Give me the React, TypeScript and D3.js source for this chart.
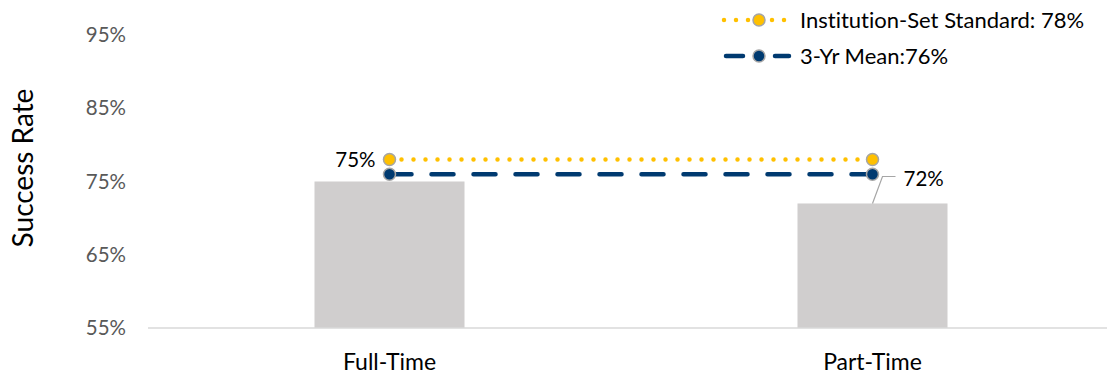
import React from "react";
import * as d3 from "d3";

const categories = ["Full-Time", "Part-Time"];
const successRates = [75, 72];
const standardValue = 78;
const meanValue = 76;
const yTicks = [55, 65, 75, 85, 95];
const legendLabels = ["Institution-Set Standard: 78%", "3-Yr Mean:76%"];

const W = 1107;
const H = 377;
const FONT = "Lato, 'Open Sans', sans-serif";
const GOLD = "#FFC000";
const NAVY = "#003A70";
const MARKER_STROKE = "#A5A5A5";

export default function App() {
  const x = d3.scaleBand<string>().domain(categories).range([148, 1114]).paddingInner(0).paddingOuter(0);
  const y = d3.scaleLinear().domain([55, 95]).range([328, 35]);
  const barW = 150;
  const cx = (c: string) => (x(c) ?? 0) + x.bandwidth() / 2;

  const linePath = (v: number) =>
    d3.line<string>().x((c) => cx(c)).y(() => y(v))(categories) ?? "";

  const p0 = cx(categories[1]);
  const v1 = y(successRates[1]);

  return (
    <svg width={W} height={H} style={{ position: "absolute", left: 0, top: 0, fontVariantLigatures: "none" }} fontFamily={FONT}>
      {/* axis title */}
      <text transform={`translate(23,${168}) rotate(-90)`} textAnchor="middle" dy="0.35em" fontSize={28} fill="#000">
        Success Rate
      </text>
      {/* y tick labels */}
      {yTicks.map((t) => (
        <text key={t} x={126} y={y(t)} dy="0.35em" textAnchor="end" fontSize={20.5} fill="#595959">
          {t}%
        </text>
      ))}
      {/* bars */}
      {categories.map((c, i) => (
        <rect key={c} x={cx(c) - barW / 2} y={y(successRates[i])} width={barW} height={y(55) - y(successRates[i])} fill="#D0CECE" />
      ))}
      {/* category axis */}
      <line x1={148} x2={1114} y1={y(55)} y2={y(55)} stroke="#D9D9D9" strokeWidth={1.5} />
      {categories.map((c) => (
        <text key={c} x={cx(c)} y={370} textAnchor="middle" fontSize={23} fill="#000">
          {c}
        </text>
      ))}
      {/* reference lines */}
      <path d={linePath(standardValue)} stroke={GOLD} strokeWidth={4.5} strokeDasharray="0 12" strokeLinecap="round" fill="none" />
      <path d={linePath(meanValue)} stroke={NAVY} strokeWidth={4.5} strokeDasharray="22 20" strokeLinecap="round" fill="none" />
      {categories.map((c) => (
        <g key={c}>
          <circle cx={cx(c)} cy={y(standardValue)} r={6} fill={GOLD} stroke={MARKER_STROKE} strokeWidth={1.5} />
          <circle cx={cx(c)} cy={y(meanValue)} r={6} fill={NAVY} stroke={MARKER_STROKE} strokeWidth={1.5} />
        </g>
      ))}
      {/* data labels */}
      <text x={cx(categories[0]) - 14} y={y(successRates[0]) - 22} dy="0.35em" textAnchor="end" fontSize={20.5} fill="#000">
        {successRates[0]}%
      </text>
      <polyline points={`${p0},${v1} ${p0 + 10},${v1 - 27} ${p0 + 23},${v1 - 27}`} fill="none" stroke="#A6A6A6" strokeWidth={1.2} />
      <text x={p0 + 31} y={v1 - 25} dy="0.35em" textAnchor="start" fontSize={20.5} fill="#000">
        {successRates[1]}%
      </text>
      {/* legend */}
      <g>
        <path d="M724,20 L790,20" stroke={GOLD} strokeWidth={4.5} strokeDasharray="0 12" strokeLinecap="round" />
        <circle cx={759} cy={20} r={6} fill={GOLD} stroke={MARKER_STROKE} strokeWidth={1.5} />
        <text x={800} y={20} dy="0.35em" fontSize={22} fill="#000">{legendLabels[0]}</text>
        <path d="M726,56 L743,56 M775,56 L789,56" stroke={NAVY} strokeWidth={4.5} strokeLinecap="round" />
        <circle cx={759} cy={56} r={6} fill={NAVY} stroke={MARKER_STROKE} strokeWidth={1.5} />
        <text x={800} y={56} dy="0.35em" fontSize={22} fill="#000">{legendLabels[1]}</text>
      </g>
    </svg>
  );
}
